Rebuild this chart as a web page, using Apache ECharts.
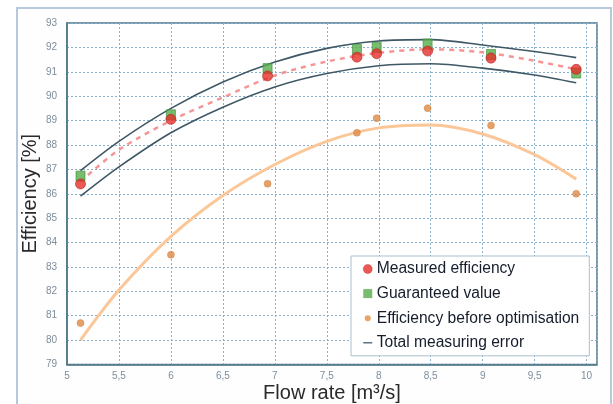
<!DOCTYPE html>
<html>
<head>
<meta charset="utf-8">
<script src="https://cdn.jsdelivr.net/npm/echarts@6/dist/echarts.min.js"></script>
<style>
html,body{margin:0;padding:0;background:#fff;}
#chart{width:613px;height:404px;}
</style>
</head>
<body>
<div id="chart"></div>
<script>
// ---- data ----
var flowRates = [5.13, 6.0, 6.93, 7.79, 7.98, 8.47, 9.08, 9.9];
var measuredEfficiency = [86.4, 89.05, 90.83, 91.6, 91.74, 91.85, 91.56, 91.1];
var guaranteedValue = [86.72, 89.24, 91.13, 91.92, 92.0, 92.14, 91.71, 90.95];
var beforeOptimisation = [80.7, 83.5, 86.41, 88.5, 89.1, 89.51, 88.8, 86.0];

var curveX = [5.13, 5.5, 6.0, 6.5, 7.0, 7.5, 8.0, 8.5, 9.0, 9.5, 9.9];
var upperErrorY = [86.95, 88.15, 89.5, 90.58, 91.4, 91.96, 92.26, 92.32, 92.1, 91.83, 91.58];
var lowerErrorY = [85.9, 87.1, 88.5, 89.55, 90.38, 90.93, 91.25, 91.33, 91.15, 90.87, 90.55];
var measuredTrendY = [86.5, 87.8, 89.0, 89.95, 90.85, 91.42, 91.78, 91.92, 91.8, 91.45, 91.1];
var beforeTrendY = [80.0, 82.05, 84.25, 85.93, 87.2, 88.15, 88.7, 88.82, 88.45, 87.6, 86.6];

var legendNames = ['Measured efficiency', 'Guaranteed value', 'Efficiency before optimisation', 'Total measuring error'];
var xAxisTitle = 'Flow rate [m³/s]';
var yAxisTitle = 'Efficiency [%]';

function pairs(xs, ys) { return xs.map(function (x, i) { return [x, ys[i]]; }); }

var FONT = '"Liberation Sans", Arial, sans-serif';
var chart = echarts.init(document.getElementById('chart'), null, {renderer: 'canvas'});

var option = {
  backgroundColor: '#ffffff',
  animation: false,
  graphic: [{
    type: 'rect', left: 16, top: 7, silent: true, z: -10,
    shape: {width: 594, height: 410},
    style: {fill: '#fefefe', stroke: '#b6c8da', lineWidth: 2}
  }],
  grid: {
    left: 67, right: 16, top: 23, bottom: 39.5,
    outerBoundsMode: 'none', containLabel: false,
    show: true, borderColor: '#4d7686', borderWidth: 1.5, backgroundColor: '#ffffff'
  },
  legend: {
    orient: 'vertical', left: 351, top: 256,
    padding: [5, 10, 5, 12],
    itemWidth: 10, itemHeight: 9, itemGap: 8.6,
    backgroundColor: '#ffffff', borderColor: '#a9c1cd', borderWidth: 1, borderRadius: 0,
    symbolKeepAspect: true,
    textStyle: {fontFamily: FONT, fontSize: 15.6, color: '#151d2b', padding: [0, 0, 0, -1]},
    data: [
      {name: legendNames[0], icon: 'circle', itemStyle: {color: '#e5302b', borderColor: '#c22', borderWidth: 0.5}},
      {name: legendNames[1], icon: 'path://M0,0H1V1H0Z', itemStyle: {color: '#55ad4a', borderWidth: 0}},
      {name: legendNames[2], icon: 'path://M0,0M10,10M5,1.6A3.4,3.4,0,1,1,4.99,1.6Z', itemStyle: {color: '#e48d45', borderWidth: 0}},
      {name: legendNames[3], icon: 'path://M0,0M10,10M0,4.3H10V5.7H0Z', itemStyle: {color: '#3e5866', borderWidth: 0}}
    ]
  },
  xAxis: {
    type: 'value', min: 5, max: 10.1, interval: 0.5,
    name: xAxisTitle, nameLocation: 'middle', nameGap: 19, nameMoveOverlap: false,
    nameTextStyle: {fontFamily: FONT, fontSize: 20, color: '#2a2a2a', verticalAlign: 'top'},
    axisLine: {show: true, lineStyle: {color: '#4d7686', width: 1.5}},
    axisTick: {show: false},
    axisLabel: {
      fontFamily: FONT, fontSize: 10, color: '#7d8d9b', margin: 7, showMaxLabel: false,
      formatter: function (v) { return String(v).replace('.', ','); }
    },
    splitLine: {show: true, lineStyle: {color: '#86b0cb', width: 1, type: [2, 2]}}
  },
  yAxis: {
    type: 'value', min: 79, max: 93, interval: 1,
    name: yAxisTitle, nameLocation: 'middle', nameGap: 27, nameRotate: 90, nameMoveOverlap: false,
    nameTextStyle: {fontFamily: FONT, fontSize: 20, color: '#2a2a2a'},
    axisLine: {show: true, lineStyle: {color: '#4d7686', width: 1.5}},
    axisTick: {show: false},
    axisLabel: {fontFamily: FONT, fontSize: 10, color: '#7d8d9b', margin: 10},
    splitLine: {show: true, lineStyle: {color: '#86b0cb', width: 1, type: [2, 2]}}
  },
  series: [
    {
      name: 'before-trend', type: 'line', smooth: 0.3, symbol: 'none', silent: true,
      data: pairs(curveX, beforeTrendY),
      lineStyle: {color: '#fcc798', width: 3}, z: 2
    },
    {
      name: legendNames[3], type: 'line', smooth: 0.3, symbol: 'none',
      data: pairs(curveX, upperErrorY),
      lineStyle: {color: '#3e5866', width: 1.6}, itemStyle: {color: '#3e5866'}, z: 3
    },
    {
      name: legendNames[3], type: 'line', smooth: 0.3, symbol: 'none',
      data: pairs(curveX, lowerErrorY),
      lineStyle: {color: '#3e5866', width: 1.6}, itemStyle: {color: '#3e5866'}, z: 3
    },
    {
      name: 'measured-trend', type: 'line', smooth: 0.3, symbol: 'none', silent: true,
      data: pairs(curveX, measuredTrendY),
      lineStyle: {color: '#f48a8a', width: 2.5, type: [5, 5], opacity: 0.9}, z: 3
    },
    {
      name: legendNames[2], type: 'scatter', symbol: 'circle', symbolSize: 7,
      data: pairs(flowRates, beforeOptimisation),
      itemStyle: {color: '#e08a44', borderColor: '#c9793a', borderWidth: 0.5}, z: 4
    },
    {
      name: legendNames[1], type: 'scatter', symbol: 'rect', symbolSize: [9, 10],
      data: pairs(flowRates, guaranteedValue),
      itemStyle: {color: '#57ad4b', borderColor: '#3f8f3c', borderWidth: 0.8}, z: 5
    },
    {
      name: legendNames[0], type: 'scatter', symbol: 'circle', symbolSize: 10,
      data: pairs(flowRates, measuredEfficiency),
      itemStyle: {color: '#e5302b', borderColor: '#b52a24', borderWidth: 0.8}, z: 6
    }
  ]
};
chart.setOption(option);
</script>
</body>
</html>
